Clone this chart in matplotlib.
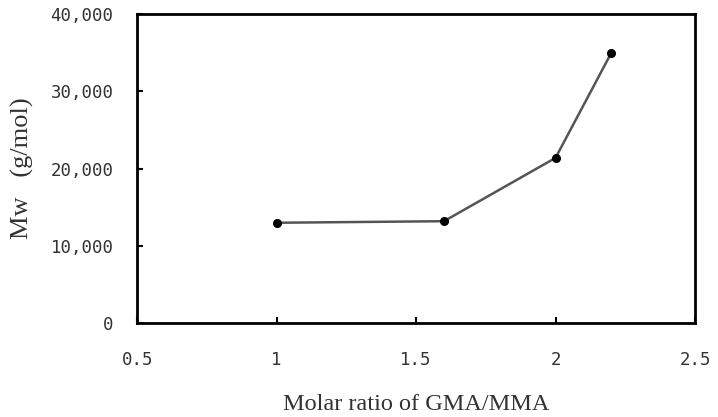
import matplotlib
matplotlib.use("Agg")
import matplotlib.pyplot as plt
from matplotlib.ticker import FuncFormatter

# data
ratio = [1.0, 1.6, 2.0, 2.2]
mw = [13000, 13200, 21400, 35000]

x_ticks = [0.5, 1, 1.5, 2, 2.5]
x_labels = ["0.5", "1", "1.5", "2", "2.5"]
y_ticks = [0, 10000, 20000, 30000, 40000]

fig = plt.figure(figsize=(7.18, 4.17), dpi=100)
ax = fig.add_axes([0.191, 0.225, 0.777, 0.741])

ax.plot(ratio, mw, color="#555555", lw=1.8, zorder=2)
ax.plot(ratio, mw, "o", color="black", ms=5.5, zorder=3)

ax.set_xlim(0.5, 2.5)
ax.set_ylim(0, 40000)
ax.set_xticks(x_ticks)
ax.set_xticklabels(x_labels)
ax.set_yticks(y_ticks)
ax.yaxis.set_major_formatter(FuncFormatter(lambda v, p: "{:,.0f}".format(v)))

ax.tick_params(direction="in", length=4, width=1.5, top=False, right=False,
               labelsize=12.5, colors="black")
ax.tick_params(axis="x", pad=20)
ax.tick_params(axis="y", pad=17)
for lab in ax.get_xticklabels() + ax.get_yticklabels():
    lab.set_family("DejaVu Sans Mono")
    lab.set_color("#333333")

for s in ax.spines.values():
    s.set_linewidth(2)
    s.set_color("black")

ax.set_xlabel("Molar ratio of GMA/MMA", family="Liberation Serif", fontsize=17.5,
              color="#333333", labelpad=18)
ax.set_ylabel("Mw   (g/mol)", family="Liberation Serif", fontsize=19,
              color="#333333", labelpad=12)

fig.savefig("out.png", dpi=100)
